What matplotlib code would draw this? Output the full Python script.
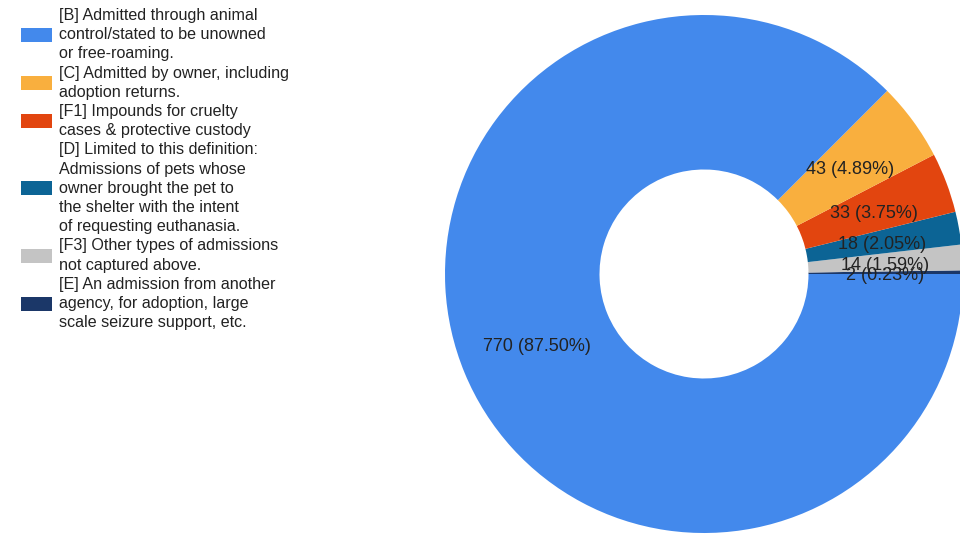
import matplotlib
matplotlib.use("Agg")
import matplotlib.pyplot as plt
from matplotlib.patches import Rectangle
from matplotlib.transforms import ScaledTranslation

# Data (legend order)
categories = [
    "[B] Admitted through animal\ncontrol/stated to be unowned\nor free-roaming.",
    "[C] Admitted by owner, including\nadoption returns.",
    "[F1] Impounds for cruelty\ncases & protective custody",
    "[D] Limited to this definition:\nAdmissions of pets whose\nowner brought the pet to\nthe shelter with the intent\nof requesting euthanasia.",
    "[F3] Other types of admissions\nnot captured above.",
    "[E] An admission from another\nagency, for adoption, large\nscale seizure support, etc.",
]
values = [770, 43, 33, 18, 14, 2]
colors = ["#4389EC", "#F9AF3E", "#E2450F", "#0C6495", "#C4C4C4", "#1B3768"]

total = sum(values)
slice_labels = [f"{v} ({v / total * 100:.2f}%)" for v in values]

W, H = 960, 538
fig = plt.figure(figsize=(W / 100, H / 100), dpi=100)
plt.rcParams['font.family'] = ['Liberation Sans', 'DejaVu Sans']

# Donut geometry in pixels
cx, cy, R, r_in = 704, 274, 259, 104.5
ax_left, ax_right = 440, 960
ax = fig.add_axes([ax_left / W, 0, (ax_right - ax_left) / W, 1])

pv = values[::-1]
pc = colors[::-1]
pl = slice_labels[::-1]
wedges, texts, autotexts = ax.pie(
    pv, colors=pc, startangle=0, counterclock=True, radius=1,
    wedgeprops=dict(width=1 - r_in / R, linewidth=0),
    autopct=lambda p: "", pctdistance=0.70,
    textprops=dict(fontsize=13.0, color="#222222"))
shift = ScaledTranslation(0, -0.03, fig.dpi_scale_trans)
for t, s in zip(autotexts, pl):
    t.set_text(s)
    t.set_ha("center")
    t.set_va("center")
    t.set_transform(ax.transData + shift)

ax.set_aspect("auto")
ax.set_xlim((ax_left - cx) / R, (ax_right - cx) / R)
ax.set_ylim((cy - H) / R, cy / R)
ax.axis("off")

# Legend (drawn manually in pixel coordinates)
line_pitch = 19.2
y_first = 15.5
line_idx = 0
for cat, col in zip(categories, colors):
    lines = cat.split("\n")
    n = len(lines)
    for i, ln in enumerate(lines):
        yc = y_first + (line_idx + i) * line_pitch
        fig.text(59 / W, 1 - yc / H, ln, fontsize=11.6, color="#222222",
                 ha="left", va="center")
    ymid = y_first + (line_idx + (n - 1) / 2) * line_pitch
    sh = 14
    fig.patches.append(Rectangle((21 / W, 1 - (ymid + sh / 2) / H), 31 / W, sh / H,
                                 transform=fig.transFigure, facecolor=col,
                                 edgecolor="none"))
    line_idx += n

fig.savefig("out.png", dpi=100)
